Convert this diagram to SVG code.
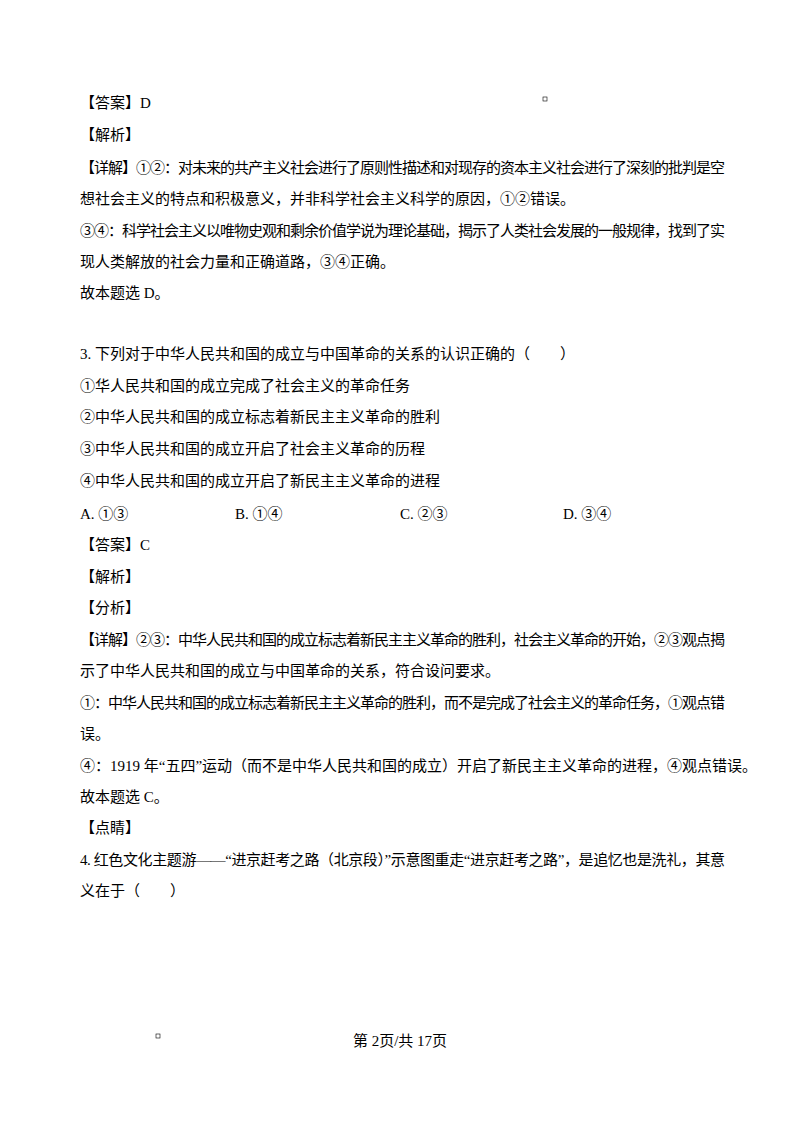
<svg xmlns="http://www.w3.org/2000/svg" width="800" height="1132" viewBox="0 0 800 1132">
<style>
text{font-family:"Liberation Serif","Noto Sans CJK SC",serif;font-size:15px;fill:#000}
.m{fill:none;stroke:#000;stroke-width:0.6}
</style>
<rect width="800" height="1132" fill="#fff"/>
<rect class="m" x="543" y="97" width="4" height="4"/>
<rect class="m" x="156" y="1034" width="4" height="4"/>
<text x="80" y="108">【答案】D</text>
<text x="80" y="140">【解析】</text>
<text x="80" y="173" textLength="645" lengthAdjust="spacing">【详解】①②：对未来的共产主义社会进行了原则性描述和对现存的资本主义社会进行了深刻的批判是空</text>
<text x="80" y="204">想社会主义的特点和积极意义，并非科学社会主义科学的原因，①②错误。</text>
<text x="80" y="236" textLength="645" lengthAdjust="spacing">③④：科学社会主义以唯物史观和剩余价值学说为理论基础，揭示了人类社会发展的一般规律，找到了实</text>
<text x="80" y="267">现人类解放的社会力量和正确道路，③④正确。</text>
<text x="80" y="298">故本题选 D。</text>
<text x="80" y="359">3. 下列对于中华人民共和国的成立与中国革命的关系的认识正确的（　　）</text>
<text x="80" y="391">①华人民共和国的成立完成了社会主义的革命任务</text>
<text x="80" y="422">②中华人民共和国的成立标志着新民主主义革命的胜利</text>
<text x="80" y="454">③中华人民共和国的成立开启了社会主义革命的历程</text>
<text x="80" y="486">④中华人民共和国的成立开启了新民主主义革命的进程</text>
<text x="80" y="519">A. ①③</text>
<text x="235" y="519">B. ①④</text>
<text x="400" y="519">C. ②③</text>
<text x="563" y="519">D. ③④</text>
<text x="80" y="550">【答案】C</text>
<text x="80" y="582">【解析】</text>
<text x="80" y="613">【分析】</text>
<text x="80" y="645" textLength="645" lengthAdjust="spacing">【详解】②③：中华人民共和国的成立标志着新民主主义革命的胜利，社会主义革命的开始，②③观点揭</text>
<text x="80" y="676">示了中华人民共和国的成立与中国革命的关系，符合设问要求。</text>
<text x="80" y="708" textLength="645" lengthAdjust="spacing">①：中华人民共和国的成立标志着新民主主义革命的胜利，而不是完成了社会主义的革命任务，①观点错</text>
<text x="80" y="739">误。</text>
<text x="80" y="771">④：1919 年“五四”运动（而不是中华人民共和国的成立）开启了新民主主义革命的进程，④观点错误。</text>
<text x="80" y="802">故本题选 C。</text>
<text x="80" y="833">【点睛】</text>
<text x="80" y="865" textLength="645" lengthAdjust="spacing">4. 红色文化主题游——“进京赶考之路（北京段）”示意图重走“进京赶考之路”，是追忆也是洗礼，其意</text>
<text x="80" y="896">义在于（　　）</text>
<text x="400" y="1046" text-anchor="middle">第 2页/共 17页</text>
</svg>
